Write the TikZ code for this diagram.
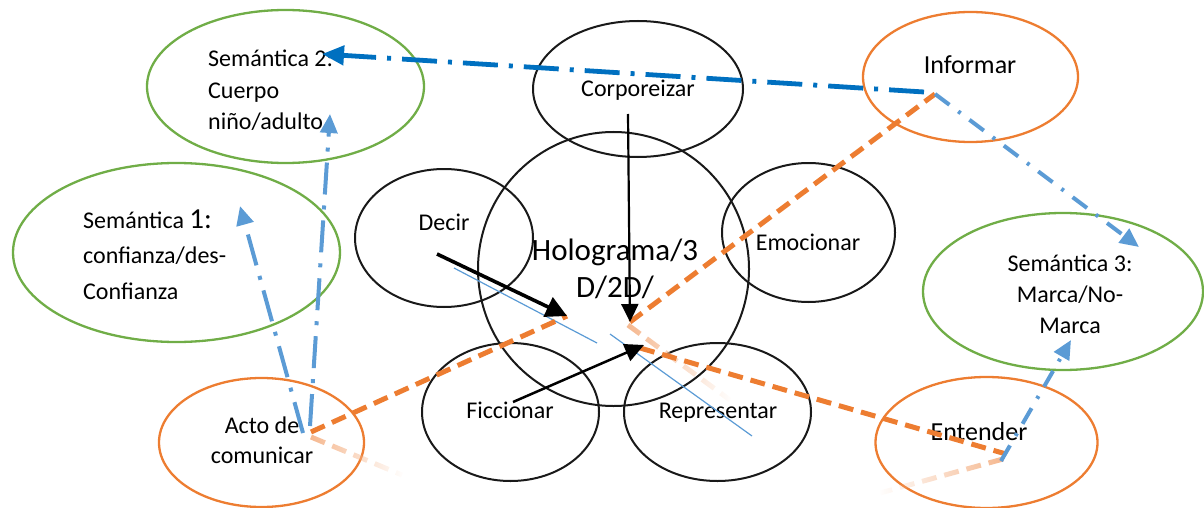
\documentclass[tikz,border=0pt]{standalone}
\usepackage{fontspec}
\setmainfont{Carlito}
\usetikzlibrary{arrows.meta,shapes.geometric,fadings}
\definecolor{cgreen}{HTML}{70AD47}
\definecolor{corange}{HTML}{ED7D31}
\definecolor{cdblue}{HTML}{0070C0}
\definecolor{clblue}{HTML}{5B9BD5}
\begin{document}
\begin{tikzpicture}[x=1pt,y=-1pt,
  grayell/.style={ellipse, draw=black!90, line width=2pt, inner sep=0pt},
  greenell/.style={ellipse, draw=cgreen, line width=2.3pt, inner sep=0pt},
  orangeell/.style={ellipse, draw=corange, line width=2.3pt, inner sep=0pt},
  lbl/.style={inner sep=0pt, anchor=base, font=\fontsize{24}{31.5}\selectfont},
  biglbl/.style={inner sep=0pt, anchor=base, font=\fontsize{26}{31.5}\selectfont},
  ddash/.style={draw=cdblue, line width=4.8pt, dash pattern=on 35pt off 11pt on 4pt off 11pt,
    -{Triangle[length=22pt,width=19pt]}},
  ldash/.style={draw=clblue, line width=4pt, dash pattern=on 32pt off 11pt on 4pt off 11pt,
    -{Triangle[length=19pt,width=17pt]}},
  sdash/.style={draw=clblue, line width=4pt, dash pattern=on 18pt off 11pt on 3pt off 11pt,
    -{Triangle[length=19pt,width=17pt]}},
  odash/.style={draw=corange, line width=5pt, dash pattern=on 15pt off 8pt},
  ofade/.style={draw=corange!55, line width=5pt, dash pattern=on 15pt off 8pt},
  blkarrow/.style={draw=black},
  thinline/.style={draw=clblue, line width=1.2pt}
]
\useasboundingbox (0,0) rectangle (1204,508);

% gray ellipses
\node[grayell, minimum width=271pt, minimum height=274pt] (holo) at (613.5,269) {};
\node[grayell, minimum width=210pt, minimum height=136pt] (corp) at (638,89) {};
\node[grayell, minimum width=178pt, minimum height=138pt] (decir) at (444,238) {};
\node[grayell, minimum width=173pt, minimum height=139pt] (emoc) at (808.5,232.5) {};
\node[grayell, minimum width=177pt, minimum height=138pt] (ficc) at (510.5,412) {};
\node[grayell, minimum width=187pt, minimum height=138pt] (repr) at (717.5,412) {};

% green ellipses
\node[greenell, minimum width=277pt, minimum height=153pt] (sem2) at (285.5,86.5) {};
\node[greenell, minimum width=327pt, minimum height=179pt] (sem1) at (176.5,252.5) {};
\node[greenell, minimum width=280pt, minimum height=157pt] (sem3) at (1063,291.5) {};

% orange ellipses
\node[orangeell, minimum width=215pt, minimum height=130pt] (inf) at (970.5,77) {};
\node[orangeell, minimum width=222pt, minimum height=131pt] (ent) at (986.5,442.5) {};
\node[orangeell, minimum width=205pt, minimum height=129pt] (acto) at (261.5,442.5) {};

% labels
\node[lbl, anchor=base west] (sem2t) at (208,67) {\parbox[t]{140pt}{\raggedright Semántica 2:\\Cuerpo\\niño/adulto}};
\node[lbl, anchor=base west, font=\fontsize{24}{35.5}\selectfont] (sem1t) at (83,228) {\parbox[t]{200pt}{\raggedright Semántica {\fontsize{29}{35.5}\selectfont 1:}\\confianza/des-\\Confianza}};
\node[lbl, font=\fontsize{24}{31}\selectfont] (sem3t) at (1070,271) {\parbox[t]{200pt}{\centering Semántica 3:\\Marca/No-\\Marca}};
\node[lbl] (corpt) at (638,97) {Corporeizar};
\node[lbl] (decirt) at (444,230) {Decir};
\node[lbl] (emoct) at (808,250) {Emocionar};
\node[lbl] (ficct) at (510,418) {Ficcionar};
\node[lbl] (reprt) at (718,418) {Representar};
\node[biglbl] (inft) at (970,74) {Informar};
\node[biglbl] (entt) at (979,440) {Entender};
\node[lbl, font=\fontsize{24}{30}\selectfont] (actot) at (262,433) {\parbox[t]{160pt}{\centering Acto de\\comunicar}};
\node[lbl, font=\fontsize{31}{37}\selectfont] (holot) at (615,260) {\parbox[t]{220pt}{\centering Holograma/3\\D/2D/}};

% connector points
\coordinate (pInf1) at (924,92);
\coordinate (pInf2) at (935,94);
\coordinate (pSem2a) at (322,54);
\coordinate (pSem2b) at (330,114);
\coordinate (pSem1) at (240,206);
\coordinate (pSem3a) at (1139,247);
\coordinate (pSem3b) at (1071,340);
\coordinate (pActo1) at (310,426);
\coordinate (pActo2) at (303,433);
\coordinate (pActo3) at (311,432);
\coordinate (pActo4) at (311,437);
\coordinate (pActoF) at (402,475);
\coordinate (pEnt1) at (1001,461);
\coordinate (pEnt2) at (1006,454);
\coordinate (pEnt3) at (1003,459);
\coordinate (pEntF) at (880,493);
\coordinate (pDecir) at (437,254);
\coordinate (pDecirTip) at (567,316);
\coordinate (pCorp) at (628,114);
\coordinate (pCorpTip) at (630,322);
\coordinate (pFicc) at (513,402);
\coordinate (pFiccTip) at (644,345);
\coordinate (pMidA) at (628,325);
\coordinate (pMidAF) at (730,400);
\coordinate (pMidB) at (640,348);
\coordinate (pThinA1) at (454,268);
\coordinate (pThinA2) at (597,343);
\coordinate (pThinB1) at (610,334);
\coordinate (pThinB2) at (752,436);

% thin blue lines
\draw[thinline] (pThinA1) -- (pThinA2);
\draw[thinline] (pThinB1) -- (pThinB2);

% faded orange
\draw[ofade, path fading=east] (pActo4) -- (pActoF);
\draw[ofade, path fading=east] (pMidA) -- (pMidAF);
\draw[ofade, path fading=west] (pEnt3) -- (pEntF);

% orange dashed
\draw[odash] (pActo3) -- (pDecirTip);
\draw[odash] (pCorpTip) -- (pInf2);
\draw[odash] (pMidB) -- (pEnt2);

% black arrows
\draw[blkarrow, line width=3.6pt, -{Triangle[length=21pt,width=21pt]}] (pDecir) -- (pDecirTip);
\draw[blkarrow, line width=2.2pt, -{Triangle[length=18pt,width=17pt]}] (pCorp) -- (pCorpTip);
\draw[blkarrow, line width=2.5pt, -{Triangle[length=19pt,width=18pt]}] (pFicc) -- (pFiccTip);

% blue dash-dot arrows
\draw[ddash] (pInf1) -- (pSem2a);
\draw[sdash] (pInf2) -- (pSem3a);
\draw[ldash] (pActo1) -- (pSem2b);
\draw[ldash] (pActo2) -- (pSem1);
\draw[sdash] (pEnt1) -- (pSem3b);
\end{tikzpicture}
\end{document}
